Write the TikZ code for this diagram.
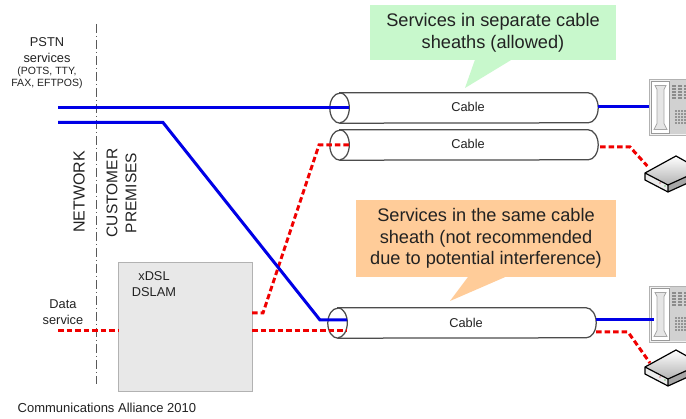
\documentclass[tikz,border=0pt]{standalone}
\usepackage{fontspec}
\setmainfont{Liberation Sans}
\definecolor{inktext}{HTML}{222222}
\definecolor{bluewire}{HTML}{0000E6}
\definecolor{redwire}{HTML}{F00000}
\definecolor{greennote}{HTML}{C8F8CC}
\definecolor{orangenote}{HTML}{FFCC99}
\tikzset{
  lbl/.style={inner sep=0pt,text=inktext,align=center},
  cable/.style={inner sep=0pt,minimum width=268,minimum height=30},
  cabletxt/.style={lbl,font=\fontsize{12.8}{15}\selectfont},
  sheath/.style={draw=black!70,line width=1.25pt,fill=white},
  note/.style={lbl,inner sep=0pt,font=\fontsize{18.2}{21.7}\selectfont},
  bluewire/.style={draw=bluewire,line width=3pt},
  redwire/.style={draw=redwire,line width=3pt,dash pattern=on 5.5pt off 3pt},
  pics/phone/.style={code={
    \node[minimum width=50,minimum height=56,inner sep=0pt,outer sep=0pt,anchor=north west,draw=black!30,fill=black!5,line width=.8pt] (-body) at (0,0) {};
    \draw[black!40,fill=white,line width=.8pt] (2,2) rectangle (20,54);
    \draw[black!35,fill=black!10,line width=.8pt] (6,6) -- (17,6) -- (15,10) -- (15,44) -- (18,50) -- (5,50) -- (8,44) -- (8,10) -- cycle;
    \fill[black!18] (21,1) rectangle (50,55);
    \foreach \kx in {23,29,35} \foreach \ky in {6,9,12,15,18}
      \fill[black!45] (\kx,\ky) rectangle ++(4,2);
    \foreach \kx in {26,29,32,35} \foreach \ky in {31,34,37,40,43}
      \fill[black!42] (\kx,\ky) rectangle ++(2,2);
  }},
  pics/modem/.style={code={
    \coordinate (-port) at (5,-4);
    \shade[top color=white,bottom color=black!30] (0,0) -- (31,-17) -- (56,-3) -- (23,12) -- cycle;
    \fill[black!8] (0,0) -- (23,12) -- (23,19) -- (0,7) -- cycle;
    \fill[black!35] (23,12) -- (56,-3) -- (56,4) -- (23,19) -- cycle;
    \fill[green!60!black] (20,13) circle (.7);
    \fill[red!70!black] (15,10) circle (.7);
    \draw[black,line width=1.2pt,line join=round] (0,0) -- (31,-17) -- (56,-3) (0,0) -- (23,12) -- (56,-3) (0,0) -- (0,7) -- (23,19) -- (56,4) (23,12) -- (23,19);
  }}
}
\begin{document}
\begin{tikzpicture}[x=1pt,y=-1pt]
\clip (0,0) rectangle (686,419);
\fill[white] (0,0) rectangle (686,419);

\node[cable] (cableA) at (464,108) {};
\node[cable] (cableB) at (464,145) {};
\node[cable] (cableC) at (462,323) {};
\foreach \cab in {cableA,cableB,cableC} {
  \draw[sheath] ([xshift=10]\cab.north west) -- ([xshift=-10]\cab.north east)
    arc[start angle=-90,end angle=90,x radius=10,y radius=15]
    -- ([xshift=10]\cab.south west)
    arc[start angle=90,end angle=270,x radius=10,y radius=15] -- cycle;
  \draw[sheath,fill=none] ([xshift=10]\cab.north west)
    arc[start angle=-90,end angle=90,x radius=9.5,y radius=15];
}
\node[cabletxt] (labelA) at (468,107) {Cable};
\node[cabletxt] (labelB) at (468,144) {Cable};
\node[cabletxt] (labelC) at (466,323) {Cable};

\node[minimum width=134,minimum height=129,inner sep=0pt,outer sep=0pt,draw=black!30,fill=black!9,line width=1pt] (dslam) at (185,327.5) {};
\node[lbl,font=\fontsize{12.8}{16}\selectfont] (dslamtxt) at (154,284) {xDSL\\DSLAM};

\node[note,fill=greennote,minimum width=246,minimum height=55] (noteA) at (493,32.5) {Services in separate cable\\sheaths (allowed)};
\fill[greennote] ([xshift=105]noteA.south west) -- (465,88) -- ([xshift=141]noteA.south west) -- cycle;
\node[note,fill=orangenote,minimum width=260,minimum height=77] (noteB) at (486,238.5) {Services in the same cable\\sheath (not recommended\\due to potential interference)};
\fill[orangenote] ([xshift=112]noteB.south west) -- (450,301) -- ([xshift=149]noteB.south west) -- cycle;

\draw[black!65,line width=.9pt,dash pattern=on 9pt off 3pt on 1pt off 3pt] (96,24) coordinate (limA) -- (96,384) coordinate (limB);

\pic (phoneA) at (649,79.5) {phone};
\pic (phoneB) at (649,286.5) {phone};
\pic (modemA) at (645,173) {modem};
\pic (modemB) at (645,367) {modem};

\coordinate (pstnA) at (58,107.5);
\coordinate (pstnB) at (58,122.5);
\coordinate (dataIn) at (58,331);
\coordinate (bendA) at (163,122.5);
\coordinate (bendB) at (320,320);
\coordinate (bendC) at (263,313);
\coordinate (bendD) at (319,145);
\coordinate (bendE) at (630,147);
\coordinate (bendF) at (628,332);
\coordinate (inA) at (349,107.5);
\coordinate (inB) at (349,145);
\coordinate (inC) at (347,320);
\coordinate (inD) at (347,331);
\coordinate (outA) at (598,107);
\coordinate (outB) at (600,147);

\draw[redwire] (dataIn) -- (dslam.west |- dataIn);
\draw[redwire] (dslam.east |- dataIn) -- (inD);
\draw[redwire] (dslam.east |- bendC) -- (bendC) -- (bendD) -- (inB);
\draw[redwire,shorten >=4pt] (outB) -- (bendE) -- (modemA-port);
\draw[redwire] (cableC.east |- bendF) -- (bendF) -- (modemB-port);
\draw[bluewire] (pstnA) -- (inA);
\draw[bluewire] (pstnB) -- (bendA) -- (bendB) -- (inC);
\draw[bluewire] (outA) -- (phoneA-body.west |- outA);
\draw[bluewire,shorten >=-5pt] (cableC.east |- inC) -- (phoneB-body.west |- inC);

\node[lbl,font=\fontsize{12.8}{16}\selectfont] (pstn) at (47,50) {PSTN\\services};
\node[lbl,font=\fontsize{10.5}{12.5}\selectfont] (pots) at (47,78) {(POTS, TTY,\\FAX, EFTPOS)};
\node[lbl,font=\fontsize{12.8}{16}\selectfont] (data) at (63,312) {Data\\service};
\node[lbl,rotate=90,font=\fontsize{16}{18}\selectfont] (network) at (79,192) {NETWORK};
\node[lbl,rotate=90,font=\fontsize{15.5}{19}\selectfont] (customer) at (121.5,193) {CUSTOMER\\PREMISES};
\node[lbl,anchor=west,font=\fontsize{13}{15}\selectfont] (credit) at (17.5,408) {Communications Alliance 2010};
\end{tikzpicture}
\end{document}
